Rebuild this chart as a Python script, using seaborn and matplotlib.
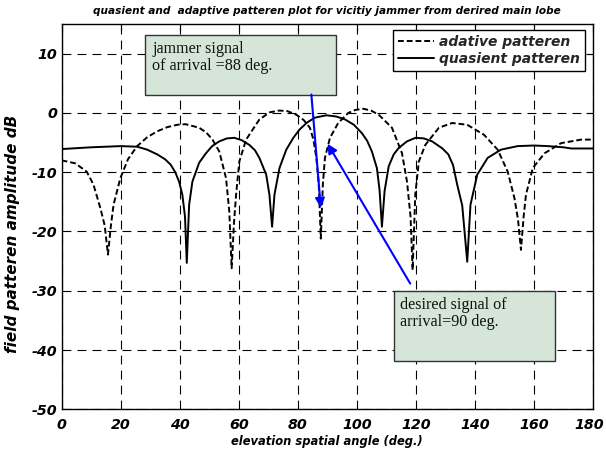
import matplotlib
matplotlib.use('Agg')
import matplotlib.pyplot as plt
import matplotlib.transforms as mtransforms
import seaborn as sns
from matplotlib.patches import Rectangle

# ---------------- data ----------------
adaptive_angle = [0, 4.6, 8.5, 10.8, 13.1, 14.6, 15.7, 16.7, 17.6, 19.9, 22.5, 25.6, 29, 32.4,
                  35.8, 39.2, 42.0, 46.6, 49, 51.1, 53.4, 55.7, 56.8, 57.6, 58.4, 59.1, 60.2,
                  62.5, 67.0, 70.5, 73.8, 76.5, 79.5, 82, 84.1, 85.3, 86.3, 87.1, 87.8, 88.5,
                  89.2, 90.9, 93.7, 97.1, 99.5, 102.2, 104.8, 107.4, 111.9, 115.3, 117.0, 118.2,
                  118.9, 119.8, 121.0, 123.2, 127.8, 132.3, 137.4, 143.1, 147.7, 151.1, 153.4,
                  154.6, 155.6, 156.5, 157.3, 159.6, 163.6, 169.2, 176.0, 180]
adaptive_db = [-8.0, -8.5, -9.9, -12.1, -16.0, -19.0, -23.9, -19.0, -15.5, -11.0, -7.8, -5.6, -4.1, -3.1,
               -2.4, -2.0, -1.9, -2.5, -3.3, -4.5, -6.5, -11.0, -16.6, -26.2, -18.5, -13.8, -8.2,
               -4.5, -1.1, 0.1, 0.4, 0.3, -0.3, -1.2, -2.5, -4.5, -7.6, -12.0, -21.2, -12.0,
               -7.6, -4.2, -1.7, 0.0, 0.5, 0.7, 0.4, -0.3, -2.5, -6.8, -11.6, -17.5,
               -26.5, -13.8, -8.2, -5.4, -2.5, -1.7, -2.0, -3.7, -6.2, -9.9, -14.4,
               -18.0, -23.1, -17.5, -13.8, -9.3, -6.8, -5.1, -4.5, -4.5]

quasi_angle = [0, 10, 20, 25.6, 29, 32.4, 35, 36.9, 38.5, 39.8, 40.9, 41.8, 42.4, 43.2, 44.3,
               46.6, 48.9, 51, 53.4, 56, 58.5, 61, 63.6, 65.5, 67, 69.3, 70.4, 71.3, 72.1, 73.8,
               76.1, 78.5, 80.6, 83.2, 85.8, 89.7, 93, 96.0, 99, 101.7, 103.5, 105.1, 106.8,
               107.7, 108.5, 109.4, 110.8, 112.5, 114.2, 117, 119.9, 122.7, 125.5, 129, 131,
               132.6, 134, 135.7, 137.4, 138.5, 140.8, 144.3, 148.8, 154.5, 160, 164.7, 170,
               172.6, 180]
quasi_db = [-6.1, -5.8, -5.6, -5.7, -6.2, -7.0, -7.8, -8.7, -10.0, -11.6, -13.8, -17.5, -25.3, -15.5, -11.6,
            -8.4, -6.8, -5.6, -4.8, -4.3, -4.2, -4.6, -5.4, -6.3, -7.6, -10.4, -13.8, -19.2, -13.8, -9.3,
            -6.2, -4.2, -2.8, -1.6, -0.8, -0.4, -0.6, -1.1, -2.0, -3.4, -4.7, -6.5, -9.3,
            -13.0, -19.2, -13.2, -9.0, -7.0, -5.9, -4.8, -4.2, -4.3, -4.8, -6.0, -7.0,
            -8.8, -12.1, -15.6, -25.1, -15.5, -10.4, -7.6, -6.2, -5.6, -5.5, -5.6, -5.8,
            -6.0, -6.0]

legend_labels = ['adative patteren', 'quasient patteren']
x_ticks = [0, 20, 40, 60, 80, 100, 120, 140, 160, 180]
y_ticks = [-50, -40, -30, -20, -10, 0, 10]
title_text = 'quasient and  adaptive patteren plot for vicitiy jammer from derired main lobe'
xlabel_text = 'elevation spatial angle (deg.)'
ylabel_text = 'field patteren amplitude dB'
jammer_text = 'jammer signal\nof arrival =88 deg.'
desired_text = 'desired signal of\narrival=90 deg.'

# ---------------- plot ----------------
sns.set_theme(style='white')
plt.rcParams['font.family'] = ['DejaVu Sans']
plt.rcParams['axes.unicode_minus'] = False

W, H = 606, 450
fig = plt.figure(figsize=(W / 100, H / 100), dpi=100)
fig.patch.set_facecolor('white')
ax_l, ax_r, ax_t, ax_b = 61.6, 593.0, 24.0, 409.3
ax = fig.add_axes([ax_l / W, 1 - ax_b / H, (ax_r - ax_l) / W, (ax_b - ax_t) / H])
ax.set_facecolor('white')

sns.lineplot(x=adaptive_angle, y=adaptive_db, ax=ax, color='black', lw=1.4,
             linestyle=(0, (3, 1.5)), label=legend_labels[0], sort=False, zorder=3)
sns.lineplot(x=quasi_angle, y=quasi_db, ax=ax, color='black', lw=1.4,
             label=legend_labels[1], sort=False, zorder=3)

ax.set_xlim(0, 180)
ax.set_ylim(-50, 15)
ax.set_xticks(x_ticks)
ax.set_yticks(y_ticks)
ax.grid(True, color='black', linestyle=(0, (8, 5.5)), lw=0.8)
ax.tick_params(direction='in', top=True, right=True, length=5, width=0.8,
               labelsize=10.3, colors='black')
ax.tick_params(axis='x', pad=6)
ax.tick_params(axis='y', pad=3)
for lab in ax.get_xticklabels() + ax.get_yticklabels():
    lab.set_fontweight('heavy')
    lab.set_fontstyle('italic')
xlabs = ax.get_xticklabels()
for i, lab in enumerate(xlabs):
    dx = 0 if i < len(xlabs) - 1 else -4
    if dx:
        lab.set_transform(lab.get_transform() +
                          mtransforms.ScaledTranslation(dx / 100, 0, fig.dpi_scale_trans))
for sp in ax.spines.values():
    sp.set_color('black')
    sp.set_linewidth(1.0)

ax.set_xlabel(xlabel_text, fontsize=8.3, fontweight='bold', fontstyle='italic', color='black')
ax.set_ylabel(ylabel_text, fontsize=11, fontweight='bold', fontstyle='italic', color='black')
ax.xaxis.set_label_coords(0.5, -0.0667)
ax.yaxis.set_label_coords((20 - ax_l) / (ax_r - ax_l), (ax_b - 233.5) / (ax_b - ax_t))

fig.text(((ax_l + ax_r) / 2) / W, 1 - 11 / H, title_text, ha='center', va='center',
         fontsize=7.6, fontweight='bold', fontstyle='italic', color='black')

leg = ax.legend(loc='upper right', bbox_to_anchor=(1 - 8 / (ax_r - ax_l), 1 - 6 / (ax_b - ax_t)),
                borderaxespad=0, frameon=True, fancybox=False, edgecolor='black',
                prop=dict(weight='bold', style='italic', size=10), handlelength=2.6,
                handletextpad=0.4, borderpad=0.35, labelspacing=0.2, framealpha=1)
leg.get_frame().set_linewidth(1.0)
leg.set_zorder(6)

box_fc = '#d5e6d8'
ax.add_patch(Rectangle((28.1, 3.1), 92.8 - 28.1, 13.2 - 3.1, facecolor=box_fc,
                       edgecolor='#333333', lw=1.0, zorder=5))
ax.text(30.7, 12.1, jammer_text, ha='left', va='top', fontsize=11.6, linespacing=1.05,
        family='Liberation Serif', color='#111111', zorder=6)
ax.add_patch(Rectangle((112.5, -41.8), 167.0 - 112.5, -30.1 + 41.8, facecolor=box_fc,
                       edgecolor='#333333', lw=1.0, zorder=5))
ax.text(114.7, -31.1, desired_text, ha='left', va='top', fontsize=11.6, linespacing=1.05,
        family='Liberation Serif', color='#111111', zorder=6)

ax.annotate('', xy=(87.8, -16.0), xytext=(84.6, 3.1),
            arrowprops=dict(arrowstyle='-|>', color='blue', lw=1.5, mutation_scale=14,
                            shrinkA=0, shrinkB=0), zorder=7)
ax.annotate('', xy=(90.1, -5.2), xytext=(118.1, -28.8),
            arrowprops=dict(arrowstyle='-|>', color='blue', lw=1.5, mutation_scale=14,
                            shrinkA=0, shrinkB=0), zorder=7)

fig.savefig('out.png', dpi=100, facecolor='white')
